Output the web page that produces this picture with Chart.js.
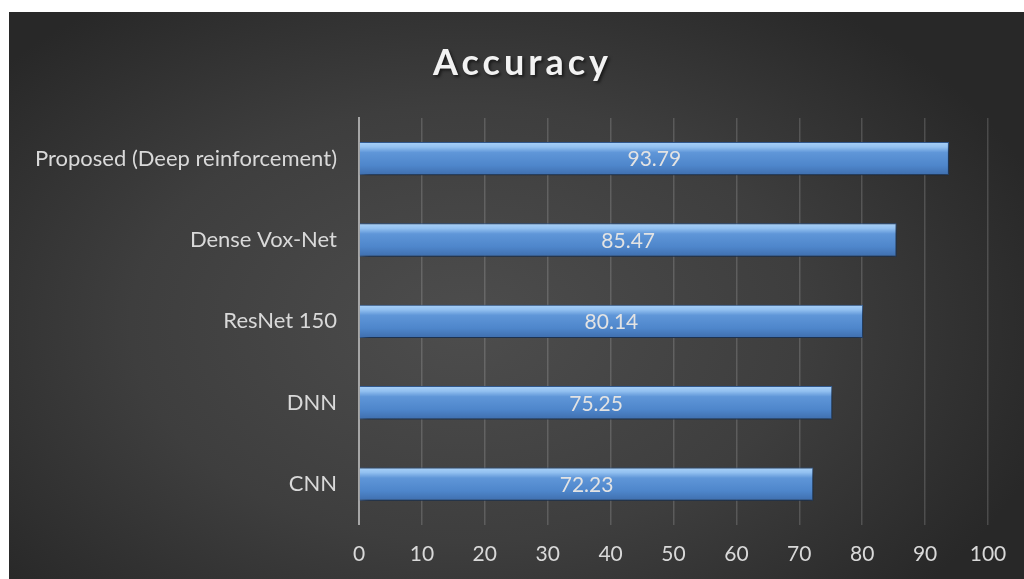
<!DOCTYPE html>
<html>
<head>
<meta charset="utf-8">
<script src="https://cdn.jsdelivr.net/npm/chart.js@4"></script>
<style>
  html, body { margin: 0; padding: 0; background: #ffffff; }
  #wrap {
    position: absolute; left: 9px; top: 12px; width: 1015px; height: 567px;
    background: radial-gradient(ellipse 60% 70% at 45% 55%, #4d4d4d 0%, #3e3e3e 55%, #282828 100%);
  }
  #title {
    position: absolute; left: 6px; width: 100%; top: 27px; text-align: center;
    font-family: Lato, "Open Sans", sans-serif; font-weight: bold; font-size: 36px;
    letter-spacing: 4px; color: #f2f2f2; text-shadow: 2px 2px 3px rgba(0,0,0,0.55);
  }
  canvas { position: absolute; left: 0; top: 0; }
</style>
</head>
<body>
<div id="wrap">
  <canvas id="chart" width="1015" height="567"></canvas>
  <div id="title">Accuracy</div>
</div>
<script>
const models = ['Proposed (Deep reinforcement)', 'Dense Vox-Net', 'ResNet 150', 'DNN', 'CNN'];
const accuracy = [93.79, 85.47, 80.14, 75.25, 72.23];
const xTicks = [0, 10, 20, 30, 40, 50, 60, 70, 80, 90, 100];

const fontFamily = 'Lato, "Open Sans", sans-serif';

const barFill = context => {
    const chart = context.chart;
    if (!chart.chartArea || !chart.scales.y) return '#4f86cc';
    const y = chart.scales.y.getPixelForValue(context.dataIndex);
    const half = 17;
    const g = chart.ctx.createLinearGradient(0, y - half, 0, y + half);
    g.addColorStop(0, '#acd3f9');
    g.addColorStop(0.16, '#92c0f0');
    g.addColorStop(0.32, '#5f96d8');
    g.addColorStop(0.7, '#4e86cb');
    g.addColorStop(1, '#3e6dac');
    return g;
};

const barShadow = {
    id: 'barShadow',
    beforeDatasetsDraw(chart) {
        const ctx = chart.ctx;
        ctx.save();
        ctx.shadowColor = 'rgba(0,0,0,0.6)';
        ctx.shadowBlur = 8;
        ctx.shadowOffsetX = 3;
        ctx.shadowOffsetY = 4;
    },
    afterDatasetsDraw(chart) {
        chart.ctx.restore();
    }
};

const valueLabels = {
    id: 'valueLabels',
    afterDraw(chart) {
        const ctx = chart.ctx;
        const meta = chart.getDatasetMeta(0);
        ctx.save();
        ctx.font = '21px ' + fontFamily;
        ctx.fillStyle = '#e3e3e3';
        ctx.textAlign = 'center';
        ctx.textBaseline = 'middle';
        meta.data.forEach((bar, i) => {
            const x = (bar.base + bar.x) / 2;
            ctx.fillText(accuracy[i].toFixed(2), x, bar.y + 1);
        });
        ctx.restore();
    }
};

new Chart(document.getElementById('chart'), {
    type: 'bar',
    data: {
        labels: models,
        datasets: [{
            data: accuracy,
            backgroundColor: barFill,
            borderColor: '#35609a',
            borderWidth: 1,
            categoryPercentage: 1,
            barPercentage: 0.41,
        }]
    },
    options: {
        indexAxis: 'y',
        responsive: false,
        animation: false,
        layout: { padding: { top: 106, right: 36, left: 0, bottom: -5 } },
        plugins: {
            legend: { display: false },
            tooltip: { enabled: false },
        },
        scales: {
            x: {
                min: 0,
                max: 100,
                afterBuildTicks: axis => { axis.ticks = xTicks.map(v => ({value: v})); },
                grid: { color: 'rgba(255,255,255,0.16)', lineWidth: 1.5, drawTicks: false },
                border: { display: false },
                ticks: { color: '#d9d9d9', font: { family: fontFamily, size: 21 }, padding: 17 },
            },
            y: {
                afterFit: axis => { axis.width = 350; },
                grid: { display: false, drawTicks: false },
                border: { display: true, color: '#a6a6a6', width: 2 },
                ticks: { color: '#d9d9d9', font: { family: fontFamily, size: 22 }, padding: 22 },
            }
        }
    },
    plugins: [barShadow, valueLabels]
});
</script>
</body>
</html>
